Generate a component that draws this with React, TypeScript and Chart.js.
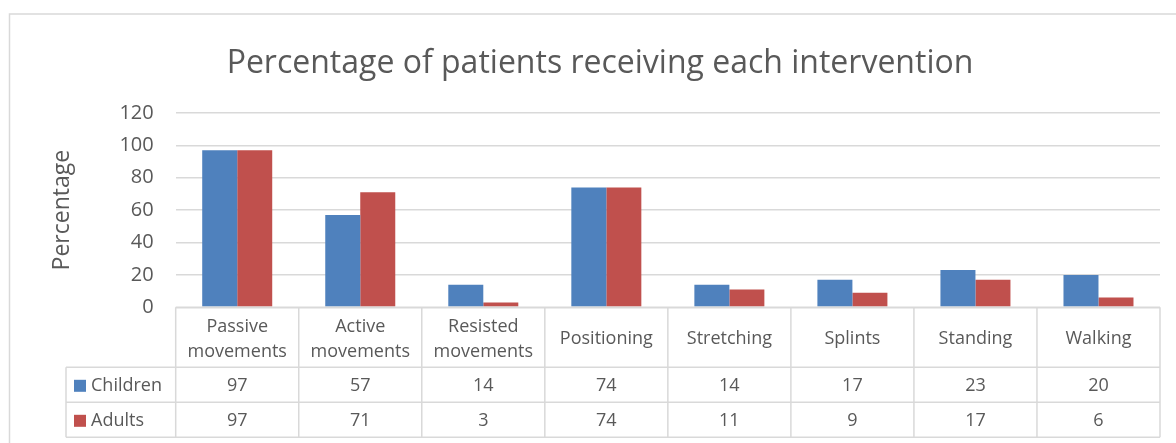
import React, { useEffect, useRef } from "react";
import { Chart, registerables } from "chart.js";

Chart.register(...registerables);

const chartTitle = "Percentage of patients receiving each intervention";
const yAxisTitle = "Percentage";
const categories: (string | string[])[] = [
  ["Passive", "movements"],
  ["Active", "movements"],
  ["Resisted", "movements"],
  "Positioning",
  "Stretching",
  "Splints",
  "Standing",
  "Walking",
];
const seriesNames = ["Children", "Adults"];
const childrenValues = [97, 57, 14, 74, 14, 17, 23, 20];
const adultsValues = [97, 71, 3, 74, 11, 9, 17, 6];
const seriesColors = ["#4F81BD", "#C0504D"];
const yMin = 0;
const yMax = 120;
const yStep = 20;

const FONT = '"Open Sans", sans-serif';
const TEXT = "#595959";
const LINE = "#D9D9D9";

const tablePlugin = {
  id: "dataTable",
  beforeDraw(chart: any) {
    const ctx = chart.ctx;
    ctx.save();
    ctx.strokeStyle = LINE;
    ctx.lineWidth = 1.5;
    ctx.strokeRect(9.5, 14, 3000, 3000);
    ctx.restore();
  },
  afterDraw(chart: any) {
    const ctx = chart.ctx;
    const area = chart.chartArea;
    const xs = chart.scales.x;
    const n = categories.length;
    const colW = (area.right - area.left) / n;
    const top = area.bottom;
    const catBottom = xs.bottom;
    const rowH = 35;
    const legendLeft = 66;
    const rows = [childrenValues, adultsValues];
    const tableBottom = catBottom + rowH * rows.length;

    ctx.save();
    ctx.strokeStyle = LINE;
    ctx.lineWidth = 1.5;
    ctx.beginPath();
    ctx.moveTo(area.left, top);
    ctx.lineTo(area.right, top);
    for (let r = 0; r <= rows.length; r++) {
      const y = catBottom + r * rowH;
      ctx.moveTo(legendLeft, y);
      ctx.lineTo(area.right, y);
    }
    ctx.moveTo(legendLeft, catBottom);
    ctx.lineTo(legendLeft, tableBottom);
    for (let i = 0; i <= n; i++) {
      const x = area.left + i * colW;
      ctx.moveTo(x, top);
      ctx.lineTo(x, tableBottom);
    }
    ctx.stroke();

    ctx.font = `18px ${FONT}`;
    ctx.fillStyle = TEXT;
    ctx.textBaseline = "middle";
    rows.forEach((vals, r) => {
      const cy = catBottom + r * rowH + rowH / 2 + 1;
      ctx.fillStyle = seriesColors[r];
      ctx.fillRect(74, cy - 6, 12, 12);
      ctx.fillStyle = TEXT;
      ctx.textAlign = "left";
      ctx.fillText(seriesNames[r], 91, cy);
      ctx.textAlign = "center";
      vals.forEach((v, i) => {
        ctx.fillText(String(v), xs.getPixelForValue(i), cy);
      });
    });
    ctx.restore();
  },
};

export default function App() {
  const ref = useRef<HTMLCanvasElement | null>(null);

  useEffect(() => {
    if (!ref.current) return;
    Chart.defaults.font.family = FONT;
    const chart = new Chart(ref.current, {
      type: "bar",
      data: {
        labels: categories as any,
        datasets: [
          {
            label: seriesNames[0],
            data: childrenValues,
            backgroundColor: seriesColors[0],
            categoryPercentage: 0.569,
            barPercentage: 1,
          },
          {
            label: seriesNames[1],
            data: adultsValues,
            backgroundColor: seriesColors[1],
            categoryPercentage: 0.569,
            barPercentage: 1,
          },
        ],
      },
      options: {
        responsive: false,
        animation: false,
        layout: { padding: { left: 40, right: 16, top: 0, bottom: 75.7 } },
        plugins: {
          legend: { display: false },
          tooltip: { enabled: false },
          title: {
            display: true,
            text: chartTitle,
            color: TEXT,
            font: { size: 32, weight: "normal", family: FONT },
            padding: { top: 44.8, bottom: 29.8 },
          },
        },
        scales: {
          x: {
            grid: { display: false },
            border: { display: false },
            ticks: {
              color: TEXT,
              font: { size: 18, lineHeight: 1.4 },
              padding: 11.2,
              maxRotation: 0,
              minRotation: 0,
              autoSkip: false,
              crossAlign: "center",
            },
            afterFit: (s: any) => {
              s.height = 60;
            },
          },
          y: {
            min: yMin,
            max: yMax,
            grid: { color: LINE, lineWidth: 1.5, drawTicks: false },
            border: { display: false },
            ticks: {
              stepSize: yStep,
              color: TEXT,
              font: { size: 20 },
              padding: 22,
            },
            title: {
              display: true,
              text: yAxisTitle,
              color: TEXT,
              font: { size: 23 },
              padding: { top: 8.2, bottom: 0 },
            },
            afterFit: (s: any) => {
              s.width = 135.7;
            },
          },
        },
      },
      plugins: [tablePlugin],
    });
    return () => chart.destroy();
  }, []);

  return (
    <div style={{ position: "fixed", left: 0, top: 0, width: 1176, height: 443, background: "#fff" }}>
      <canvas ref={ref} width={1176} height={443} style={{ display: "block" }} />
    </div>
  );
}
